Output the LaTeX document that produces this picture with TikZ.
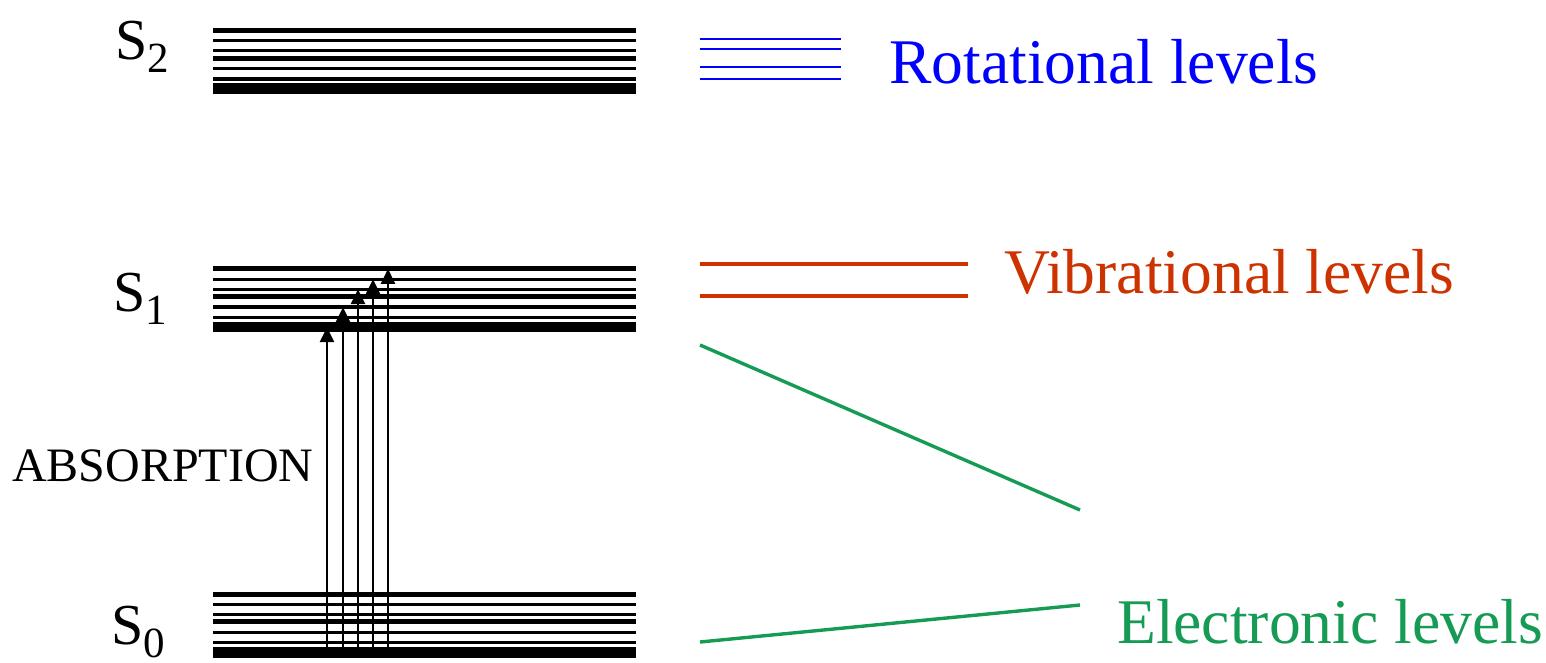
\documentclass[tikz,border=0pt]{standalone}
\usepackage{fontspec}
\setmainfont{Liberation Serif}
\usetikzlibrary{arrows.meta}
\definecolor{rotblue}{RGB}{0,0,255}
\definecolor{vibred}{RGB}{204,51,0}
\definecolor{elecgreen}{RGB}{22,155,85}
\newcommand{\singlet}[1]{S\raisebox{-13pt}{\fontsize{43}{43}\selectfont #1}}

\begin{document}
\begin{tikzpicture}[
  x=1pt, y=-1pt,
  level/.style={line width=#1, black},
  absorb/.style={-{Triangle[length=15pt,width=14pt]}, line width=2.5pt, black},
  statelbl/.style={anchor=base west, inner sep=0pt, font=\fontsize{58}{58}\selectfont},
  legend/.style={anchor=base west, inner sep=0pt, font=\fontsize{63.6}{63.6}\selectfont},
  pointer/.style={elecgreen, line width=3.4pt}
]
\useasboundingbox (0,0) rectangle (1546,662);

\foreach \name/\base in {S2/30.3, S1/268.8, S0/594}{
  \foreach \i/\off/\w in {1/0/5, 2/10.4/3.4, 3/20.4/3.4, 4/27.9/5, 5/38.3/3.4, 6/48.6/3.6, 7/58.4/10.5}{
    \draw[level=\w pt] (213,\base+\off) -- (636,\base+\off);
    \coordinate (\name-\i) at (213,\base+\off);
  }
}

\foreach \x/\lv in {327/7, 343/5, 358/3, 373/2, 388/1}{
  \coordinate (col) at (\x,0);
  \draw[absorb] (col |- S0-7) -- (col |- S1-\lv);
}

\node[statelbl] (lbl-S2) at (115,59) {\singlet{2}};
\node[statelbl] (lbl-S1) at (113,311) {\singlet{1}};
\node[statelbl] (lbl-S0) at (111,644) {\singlet{0}};
\node[anchor=base west, inner sep=0pt, font=\fontsize{48}{48}\selectfont] (absorption) at (12,481.7) {ABSORPTION};

\foreach \y in {38.7, 49, 67, 79}
  \draw[rotblue, line width=2.2pt] (700,\y) -- (841,\y);
\node[legend, text=rotblue] (rot) at (889,83) {Rotational levels};

\foreach \y in {264, 296}
  \draw[vibred, line width=4pt] (700,\y) -- (968,\y);
\node[legend, text=vibred] (vib) at (1004,293.3) {Vibrational levels};

\coordinate (s1-end) at (700,345);
\coordinate (s0-end) at (700,642);
\coordinate (tip-a) at (1080,510);
\coordinate (tip-b) at (1080,605);
\draw[pointer] (s1-end) -- (tip-a);
\draw[pointer] (s0-end) -- (tip-b);
\node[legend, text=elecgreen] (elec) at (1117,643.3) {Electronic levels};
\end{tikzpicture}
\end{document}
